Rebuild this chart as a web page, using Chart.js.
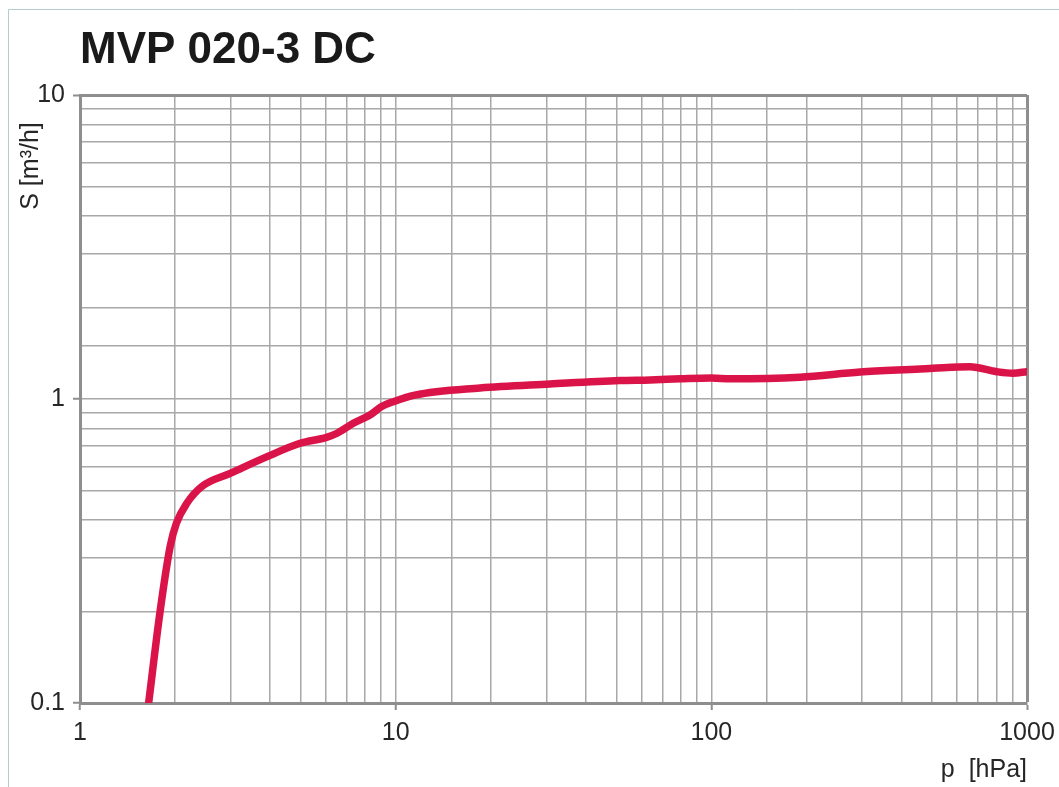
<!DOCTYPE html>
<html>
<head>
<meta charset="utf-8">
<script src="https://cdn.jsdelivr.net/npm/chart.js@4"></script>
<style>
  html, body { margin: 0; padding: 0; background: #fff; }
  #wrap { width: 1059px; height: 787px; position: relative; }
</style>
</head>
<body>
<div id="wrap"><canvas id="myChart"></canvas></div>
<script>
// pumping speed curve MVP 020-3 DC
const pressure = [1.65, 1.79, 1.93, 2.02, 2.18, 2.43, 2.99, 3.9, 4.98, 6.04, 6.5, 7.34, 8.29, 9.03, 9.83,
  11.5, 18.5, 30.8, 51.3, 64, 80, 100, 115, 191, 296, 458, 504, 659, 801, 902, 1000];
const speed = [0.1, 0.197, 0.327, 0.39, 0.454, 0.515, 0.569, 0.645, 0.715, 0.748, 0.77, 0.832, 0.886, 0.944, 0.98,
  1.03, 1.087, 1.12, 1.15, 1.155, 1.165, 1.172, 1.165, 1.18, 1.227, 1.255, 1.262, 1.277, 1.23, 1.215, 1.23];
const xTickLabels = [1, 10, 100, 1000];
const yTickLabels = [0.1, 1, 10];

const chartTitle = 'MVP 020-3 DC';
const xTitle = 'p  [hPa]';
const yTitle = 'S [m³/h]';

const FONT = "'Liberation Sans', Arial, sans-serif";
const GRID = '#a8a8a8';
const AXIS = '#8e8e8e';
const TXT = '#262626';

const isMajor = (v, list) => list.some(t => Math.abs(t - v) / t < 1e-6);

// white background, thin frame, main title and y title
const decor = {
  id: 'decor',
  beforeDraw(chart) {
    const c = chart.ctx;
    c.save();
    c.fillStyle = '#fff';
    c.fillRect(0, 0, chart.width, chart.height);
    c.strokeStyle = '#b4cccc';
    c.lineWidth = 1;
    c.beginPath();
    c.moveTo(8.5, chart.height);
    c.lineTo(8.5, 9.5);
    c.lineTo(chart.width, 9.5);
    c.stroke();
    c.restore();
  },
  afterDraw(chart) {
    const c = chart.ctx;
    c.save();
    c.fillStyle = '#1a1a1a';
    c.font = 'bold 44px ' + FONT;
    c.textBaseline = 'alphabetic';
    c.textAlign = 'left';
    c.fillText(chartTitle, 80, 63);
    c.translate(31, 166);
    c.rotate(-Math.PI / 2);
    c.font = '25px ' + FONT;
    c.fillStyle = TXT;
    c.textAlign = 'center';
    c.textBaseline = 'middle';
    c.fillText(yTitle, 0, 0);
    c.restore();
  }
};

const ctx = document.getElementById('myChart');

new Chart(ctx, {
  type: 'line',
  data: {
    datasets: [{
      data: pressure.map((p, i) => ({ x: p, y: speed[i] })),
      borderColor: '#da1448',
      borderWidth: 7.5,
      borderCapStyle: 'round',
      borderJoinStyle: 'round',
      pointRadius: 0,
      cubicInterpolationMode: 'monotone',
      fill: false
    }]
  },
  options: {
    responsive: true,
    maintainAspectRatio: false,
    animation: false,
    layout: { padding: { top: 95, right: 32, bottom: 0, left: 0 } },
    plugins: {
      legend: { display: false },
      tooltip: { enabled: false }
    },
    scales: {
      x: {
        type: 'logarithmic',
        min: 1,
        max: 1000,
        afterFit: s => { s.height = 84; s.paddingRight = 0; s.paddingLeft = 0; },
        border: { display: true, color: AXIS, width: 3 },
        grid: {
          color: c => (c.tick && c.tick.value >= 999) ? AXIS : GRID,
          lineWidth: c => (c.tick && c.tick.value >= 999) ? 3 : 1.5,
          drawTicks: true,
          tickLength: 7,
          tickColor: c => (c.tick && isMajor(c.tick.value, xTickLabels)) ? AXIS : 'rgba(0,0,0,0)',
          tickWidth: 2
        },
        ticks: {
          autoSkip: false,
          maxRotation: 0,
          padding: 8,
          color: TXT,
          font: { family: FONT, size: 25 },
          callback: v => isMajor(v, xTickLabels) ? String(v) : ''
        },
        title: {
          display: true,
          text: xTitle,
          align: 'end',
          color: TXT,
          font: { family: FONT, size: 25 },
          padding: { top: 0, bottom: 2 }
        }
      },
      y: {
        type: 'logarithmic',
        min: 0.1,
        max: 10,
        afterFit: s => { s.width = 80; },
        border: { display: true, color: AXIS, width: 3 },
        grid: {
          color: c => (c.tick && c.tick.value >= 9.99) ? AXIS : GRID,
          lineWidth: c => (c.tick && c.tick.value >= 9.99) ? 3 : 1.5,
          drawTicks: true,
          tickLength: 7,
          tickColor: c => (c.tick && isMajor(c.tick.value, yTickLabels)) ? AXIS : 'rgba(0,0,0,0)',
          tickWidth: 2
        },
        ticks: {
          autoSkip: false,
          padding: 8,
          color: TXT,
          font: { family: FONT, size: 25 },
          callback: v => isMajor(v, yTickLabels) ? String(v) : ''
        }
      }
    }
  },
  plugins: [decor]
});
</script>
</body>
</html>
